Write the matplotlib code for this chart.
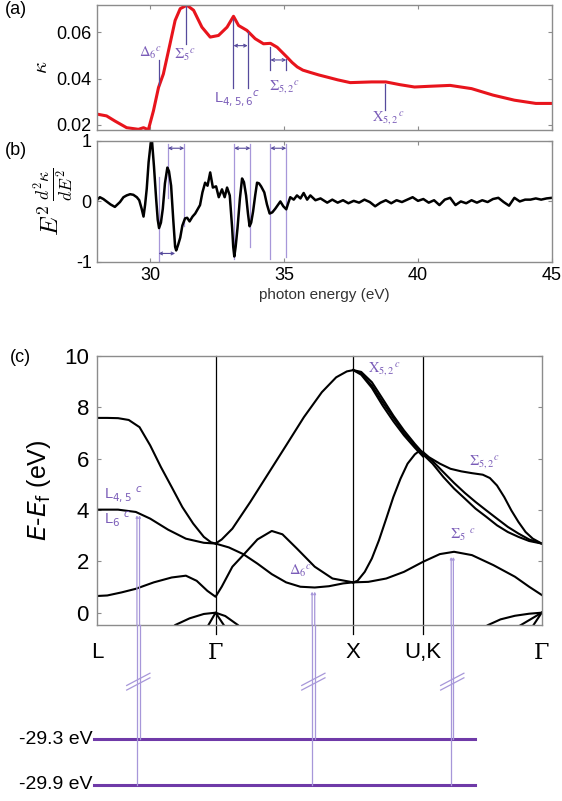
import numpy as np
import matplotlib.pyplot as plt

plt.rcParams['font.family'] = ['Liberation Sans', 'DejaVu Sans']
plt.rcParams['axes.unicode_minus'] = False

# (a) kappa vs photon energy
e_a = [28.0, 28.37, 28.68, 29.12, 29.56, 29.75, 29.93, 30.12, 30.31, 30.49, 30.74,
       30.93, 31.12, 31.37, 31.62, 31.93, 32.24, 32.55, 32.87, 33.11, 33.3, 33.61,
       33.92, 34.23, 34.49, 34.74, 35.11, 35.3, 35.49, 35.7, 35.98, 36.3, 36.67, 37.0,
       37.47, 38.27, 38.8, 39.33, 39.87, 40.4, 41.2, 42.0, 42.8, 43.6, 44.4, 45.0]
kappa = [0.0247, 0.0239, 0.0217, 0.0188, 0.0181, 0.0188, 0.0179, 0.0261, 0.0362,
         0.0420, 0.0551, 0.0652, 0.0703, 0.0718, 0.0696, 0.0623, 0.0580, 0.0587,
         0.0623, 0.0670, 0.0630, 0.0609, 0.0573, 0.0551, 0.0553, 0.0536, 0.0493,
         0.0470, 0.0451, 0.0437, 0.0427, 0.0416, 0.0405, 0.0395, 0.0383, 0.0386,
         0.0386, 0.0374, 0.0364, 0.0367, 0.0371, 0.0357, 0.0329, 0.0307, 0.0293, 0.0293]

# (b) E^2 d2kappa/dE2
e_b = [28.0, 28.12, 28.25, 28.37, 28.52, 28.68, 28.87, 29.0, 29.12, 29.25, 29.37,
       29.5, 29.59, 29.68, 29.75, 29.81, 29.87, 29.94, 30.02, 30.07, 30.14, 30.22,
       30.28, 30.33, 30.4, 30.47, 30.55, 30.64, 30.7, 30.78, 30.86, 30.93, 30.97,
       31.04, 31.12, 31.2, 31.3, 31.38, 31.47, 31.58, 31.68, 31.86, 31.95, 32.05,
       32.14, 32.24, 32.34, 32.46, 32.56, 32.68, 32.78, 32.87, 32.97, 33.06, 33.1,
       33.14, 33.19, 33.26, 33.35, 33.43, 33.5, 33.58, 33.65, 33.71, 33.77, 33.84,
       33.92, 33.99, 34.06, 34.14, 34.26, 34.36, 34.46, 34.56, 34.67, 34.86, 34.97,
       35.08, 35.16, 35.23, 35.36, 35.48, 35.61, 35.73, 35.86, 35.98, 36.17, 36.36,
       36.61, 36.8, 37.0, 37.2, 37.4, 37.6, 37.8, 38.0, 38.2, 38.4, 38.6, 38.8, 39.0,
       39.2, 39.4, 39.6, 39.8, 40.0, 40.2, 40.4, 40.6, 40.8, 41.0, 41.2, 41.4, 41.6,
       41.8, 42.0, 42.2, 42.4, 42.6, 42.8, 43.0, 43.2, 43.4, 43.6, 43.8, 44.0, 44.2,
       44.4, 44.6, 44.8, 45.0]
d2k = [0.02, 0.07, 0.04, 0.0, -0.05, -0.09, -0.01, 0.07, 0.10, 0.12, 0.11,
       0.07, 0.02, -0.12, -0.25, -0.05, 0.21, 0.65, 0.97, 0.98, 0.58, 0.05,
       -0.30, -0.44, -0.35, -0.12, 0.30, 0.56, 0.50, 0.26, -0.30, -0.75, -0.81,
       -0.72, -0.60, -0.40, -0.28, -0.27, -0.33, -0.25, -0.20, -0.06, 0.15, 0.31,
       0.26, 0.48, 0.23, 0.25, 0.07, 0.20, 0.07, 0.23, 0.10, -0.44, -0.75,
       -0.91, -0.75, -0.44, 0.05, 0.38, 0.32, 0.10, -0.20, -0.41, -0.35, -0.17,
       0.10, 0.31, 0.30, 0.25, 0.15, -0.05, -0.20, -0.18, -0.12, 0.0, -0.08,
       -0.13, -0.02, 0.07, 0.03, 0.10, 0.05, 0.14, 0.03, 0.10, 0.02, 0.05,
       -0.02, 0.03, -0.02, 0.02, -0.03, 0.01, -0.02, 0.03, -0.01, -0.08, -0.02, 0.02, -0.03,
       0.02, -0.01, 0.03, 0.07, 0.01, 0.04, -0.02, 0.02, -0.06, 0.03, 0.06, -0.06, 0.0,
       -0.03, 0.02, -0.02, 0.02, -0.01, 0.04, 0.06, -0.01, -0.07, 0.06, 0.0, 0.03, 0.03,
       0.05, 0.03, 0.05, 0.06]
assert len(e_b) == len(d2k) and len(e_a) == len(kappa)

# (c) band structure along L-G-X-U,K-G
kpts = [0.0, 0.865, 1.872, 2.382, 3.25]
klabels = ['L', 'Γ', 'X', 'U,K', 'Γ']

band_a_k = [0, 0.073, 0.152, 0.230, 0.309, 0.387, 0.465, 0.544, 0.622, 0.701, 0.779, 0.831, 0.865]
band_a_e = [7.58, 7.58, 7.57, 7.50, 7.22, 6.51, 5.67, 4.89, 4.11, 3.47, 2.95, 2.74, 2.69]
band_up_k = [0.865, 0.910, 0.988, 1.119, 1.250, 1.381, 1.511, 1.642, 1.747, 1.825, 1.872]
band_up_e = [2.69, 2.85, 3.27, 4.31, 5.41, 6.51, 7.61, 8.58, 9.16, 9.39, 9.44]
fan_k = [1.872, 1.930, 2.008, 2.087, 2.165, 2.243, 2.322, 2.382]
fan1_e = [9.44, 9.37, 8.97, 8.32, 7.67, 7.09, 6.57, 6.21]
fan2_e = [9.44, 9.31, 8.84, 8.19, 7.58, 6.99, 6.51, 6.16]
fan3_e = [9.44, 9.26, 8.75, 8.06, 7.45, 6.90, 6.42, 6.08]
band_rise_k = [1.872, 1.903, 1.956, 2.008, 2.060, 2.113, 2.165, 2.217, 2.269, 2.322, 2.353, 2.382]
band_rise_e = [1.18, 1.24, 1.59, 2.11, 2.82, 3.66, 4.50, 5.21, 5.80, 6.16, 6.29, 6.25]
band_s_k = [2.382, 2.426, 2.505, 2.583, 2.662, 2.740, 2.819, 2.871, 2.923, 2.976, 3.028, 3.080, 3.132, 3.185, 3.25]
band_s_e = [6.25, 6.05, 5.80, 5.60, 5.50, 5.43, 5.37, 5.24, 4.95, 4.50, 3.98, 3.53, 3.14, 2.88, 2.69]
band_t_k = [2.382, 2.452, 2.531, 2.609, 2.688, 2.766, 2.845, 2.923, 3.002, 3.080, 3.158, 3.25]
band_t1_e = [6.16, 5.80, 5.28, 4.83, 4.44, 4.05, 3.73, 3.40, 3.14, 2.95, 2.79, 2.69]
band_t2_e = [6.21, 5.90, 5.47, 5.05, 4.66, 4.31, 3.98, 3.66, 3.34, 3.08, 2.85, 2.69]
band_b_k = [0, 0.152, 0.282, 0.387, 0.518, 0.648, 0.779, 0.865, 0.962, 1.067, 1.171,
            1.276, 1.381, 1.485, 1.590, 1.694, 1.799, 1.872]
band_b_e = [4.01, 4.01, 3.92, 3.66, 3.23, 2.88, 2.72, 2.69, 2.54, 2.28, 1.91,
            1.50, 1.18, 1.01, 0.98, 1.03, 1.14, 1.18]
band_c_k = [0, 0.073, 0.178, 0.282, 0.413, 0.544, 0.648, 0.727, 0.805, 0.865, 0.910,
            0.988, 1.067, 1.171, 1.276, 1.354, 1.459, 1.590, 1.720, 1.872]
band_c_e = [0.65, 0.67, 0.79, 0.93, 1.18, 1.37, 1.44, 1.24, 0.85, 0.62, 1.01,
            1.79, 2.24, 2.85, 3.18, 3.05, 2.50, 1.79, 1.33, 1.18]
band_d_k = [1.872, 1.982, 2.113, 2.243, 2.382, 2.505, 2.609, 2.740, 2.897, 3.054, 3.158, 3.25]
band_d_e = [1.18, 1.20, 1.33, 1.59, 1.98, 2.28, 2.37, 2.24, 1.85, 1.40, 1.01, 0.69]
# valence bands near Gamma
val1_k = [0.545, 0.570, 0.675, 0.779, 0.865, 0.936, 1.028, 1.05]
val1_e = [-0.6, -0.48, -0.22, -0.05, 0.0, -0.13, -0.48, -0.6]
val2_k = [0.80, 0.865, 0.94]
val2_e = [-0.6, 0.0, -0.6]
val3_k = [2.82, 2.858, 2.949, 3.054, 3.158, 3.25]
val3_e = [-0.6, -0.48, -0.26, -0.12, -0.04, 0.0]
val4_k = [3.06, 3.25]
val4_e = [-0.6, 0.0]
val5_k = [3.175, 3.25]
val5_e = [-0.6, 0.0]

bands = [(band_a_k, band_a_e), (band_up_k, band_up_e), (fan_k, fan1_e), (fan_k, fan2_e),
         (fan_k, fan3_e), (band_rise_k, band_rise_e), (band_s_k, band_s_e),
         (band_t_k, band_t1_e), (band_t_k, band_t2_e), (band_b_k, band_b_e),
         (band_c_k, band_c_e), (band_d_k, band_d_e), (val1_k, val1_e), (val2_k, val2_e),
         (val3_k, val3_e), (val4_k, val4_e), (val5_k, val5_e)]

# core levels and transitions
core_levels = [-29.3, -29.9]
core_labels = ['-29.3 eV', '-29.9 eV']
trans_k = [0.290, 0.309, 1.571, 1.590, 2.588, 2.604]
trans_top = [3.79, 3.79, 0.82, 0.82, 2.17, 2.17]
trans_core = [-29.9, -29.3, -29.9, -29.3, -29.9, -29.3]

PUR_TXT = '#7a5cb8'
PUR_LINE = '#564a9c'
PUR_LIGHT = '#a797d9'
PUR_CORE = '#6f3aa8'
SPINE = '#8c8c8c'


def style_box(ax):
    for s in ax.spines.values():
        s.set_color(SPINE)
        s.set_linewidth(1.0)
    ax.tick_params(direction='in', length=3, color=SPINE, top=True, right=True)


fig = plt.figure(figsize=(5.62, 8.01), dpi=100)

# ---------------- (a)
ax_a = fig.add_axes([0.172, 0.8377, 0.810, 0.1564])
ax_a.plot(e_a, kappa, color='#e8141c', lw=2.2)
ax_a.set_xlim(28, 45)
ax_a.set_ylim(0.0178, 0.0720)
ax_a.set_yticks([0.02, 0.04, 0.06])
ax_a.set_yticklabels(['0.02', '0.04', '0.06'])
ax_a.set_xticks([30, 35, 40, 45])
ax_a.set_xticklabels([])
style_box(ax_a)
ax_a.tick_params(labelsize=13)
ax_a.set_ylabel(r'$\kappa$', fontsize=15, math_fontfamily='cm', labelpad=4)

for x, y0, y1 in [(30.31, 0.0371, 0.0479), (31.34, 0.0550, 0.0714),
                  (33.11, 0.0361, 0.0657), (33.64, 0.0361, 0.0600),
                  (34.49, 0.0436, 0.0539), (35.08, 0.0436, 0.0486),
                  (38.77, 0.0264, 0.0379)]:
    ax_a.plot([x, x], [y0, y1], color=PUR_LINE, lw=0.9)
for x0, x1, y in [(33.11, 33.64, 0.0543), (34.49, 35.08, 0.0481)]:
    ax_a.annotate('', xy=(x1, y), xytext=(x0, y),
                  arrowprops=dict(arrowstyle='<->', color=PUR_LINE, lw=0.8,
                                  shrinkA=0, shrinkB=0, mutation_scale=5))
txt_kw = dict(color=PUR_TXT, fontsize=10.5, ha='center', va='center')
ax_a.text(30.0, 0.0514, r'$\Delta_6{}^c$', math_fontfamily='stix', **txt_kw)
ax_a.text(31.3, 0.0505, r'$\Sigma_5{}^c$', math_fontfamily='stix', **txt_kw)
ax_a.text(33.25, 0.0318, r'L$_{4,5,6}{}^c$', **txt_kw)
ax_a.text(35.0, 0.0362, r'$\Sigma_{5,2}{}^c$', math_fontfamily='stix', **txt_kw)
ax_a.text(38.9, 0.0228, r'$\mathrm{X}_{5,2}{}^c$', math_fontfamily='stix', **txt_kw)

# ---------------- (b)
ax_b = fig.add_axes([0.172, 0.673, 0.810, 0.151])
for x, y0, y1 in [(30.31, -1.0, 0.40), (30.66, 0.05, 0.95), (31.27, -0.41, 0.95),
                  (33.14, -0.95, 0.95), (33.74, -0.76, 0.95), (34.49, -0.95, 0.95),
                  (35.08, -0.92, 0.95)]:
    ax_b.plot([x, x], [y0, y1], color=PUR_LIGHT, lw=0.9)
for x0, x1, y in [(30.66, 31.27, 0.88), (33.14, 33.74, 0.88), (34.49, 35.08, 0.88),
                  (30.31, 30.93, -0.86)]:
    ax_b.annotate('', xy=(x1, y), xytext=(x0, y),
                  arrowprops=dict(arrowstyle='<->', color=PUR_LINE, lw=0.8,
                                  shrinkA=0, shrinkB=0, mutation_scale=5))
ax_b.plot(e_b, d2k, color='black', lw=1.8)
ax_b.set_xlim(28, 45)
ax_b.set_ylim(-1.0, 1.0)
ax_b.set_xticks([30, 35, 40, 45])
ax_b.set_yticks([-1, 0, 1])
style_box(ax_b)
ax_b.tick_params(labelsize=13)
ax_b.set_xlabel('photon energy (eV)', fontsize=11, color='#333333', labelpad=3)
ax_b.set_ylabel(r'$E^2\,\frac{d^2\kappa}{dE^2}$', fontsize=18, math_fontfamily='cm',
                labelpad=0)

# ---------------- (c)
ax_c = fig.add_axes([0.1731, 0.2197, 0.7908, 0.3362])
for k in kpts[1:-1]:
    ax_c.axvline(k, ymin=-0.035, ymax=1, color='black', lw=0.9, clip_on=False)
for bk, be in bands:
    ax_c.plot(bk, be, color='black', lw=1.5)
for k, top in zip(trans_k, trans_top):
    ax_c.annotate('', xy=(k, top), xytext=(k, -0.48),
                  arrowprops=dict(arrowstyle='-|>', color=PUR_LIGHT, lw=0.9,
                                  shrinkA=0, shrinkB=0, mutation_scale=3))
ax_c.set_xlim(kpts[0], kpts[-1])
ax_c.set_ylim(-0.48, 10)
ax_c.set_yticks([0, 2, 4, 6, 8, 10])
for s in ax_c.spines.values():
    s.set_color(SPINE)
    s.set_linewidth(1.0)
ax_c.tick_params(axis='y', direction='in', length=3, color=SPINE, right=True,
                 labelsize=16, pad=6)
ax_c.set_xticks(kpts)
ax_c.set_xticklabels(klabels)
ax_c.tick_params(axis='x', length=0, labelsize=16, pad=12)
for lab in ax_c.get_xticklabels():
    if lab.get_text() == 'Γ':
        lab.set_family('DejaVu Serif')
ax_c.set_ylabel(r'$E$-$E_\mathrm{f}$ (eV)', fontsize=18, labelpad=8)

ctxt = dict(color=PUR_TXT, fontsize=10.5, va='center')
ax_c.text(1.98, 9.48, r'$\mathrm{X}_{5,2}{}^c$', math_fontfamily='stix', **ctxt)
ax_c.text(2.72, 5.85, r'$\Sigma_{5,2}{}^c$', math_fontfamily='stix', **ctxt)
ax_c.text(0.05, 4.63, r'L$_{4,5}$ $^c$', **ctxt)
ax_c.text(0.05, 3.62, r'L$_6$ $^c$', **ctxt)
ax_c.text(2.58, 3.02, r'$\Sigma_5$ $^c$', math_fontfamily='stix', **ctxt)
ax_c.text(1.40, 1.63, r'$\Delta_6{}^c$', math_fontfamily='stix', **ctxt)

# ---------------- core levels
ax_k = fig.add_axes([0.1731, 0.0, 0.7908, 0.2197])
ax_k.set_xlim(kpts[0], kpts[-1])
ax_k.set_ylim(-30.11, -27.81)
ax_k.axis('off')
for lev, lab in zip(core_levels, core_labels):
    ax_k.plot([-0.026, 2.761], [lev, lev], color=PUR_CORE, lw=2.2, clip_on=False)
    ax_k.text(-0.035, lev, lab, ha='right', va='center', fontsize=14)
for k, lev in zip(trans_k, trans_core):
    ax_k.plot([k, k], [lev, -27.81], color=PUR_LIGHT, lw=0.9, clip_on=False)
for kc in [0.30, 1.58, 2.596]:
    for dy in (-0.03, 0.03):
        ax_k.plot([kc - 0.085, kc + 0.085], [-28.63 + dy, -28.47 + dy],
                  color=PUR_LIGHT, lw=0.9)

fig.text(0.008, 0.982, '(a)', fontsize=13)
fig.text(0.008, 0.806, '(b)', fontsize=13)
fig.text(0.018, 0.548, '(c)', fontsize=13)

fig.savefig('out.png', dpi=100)
